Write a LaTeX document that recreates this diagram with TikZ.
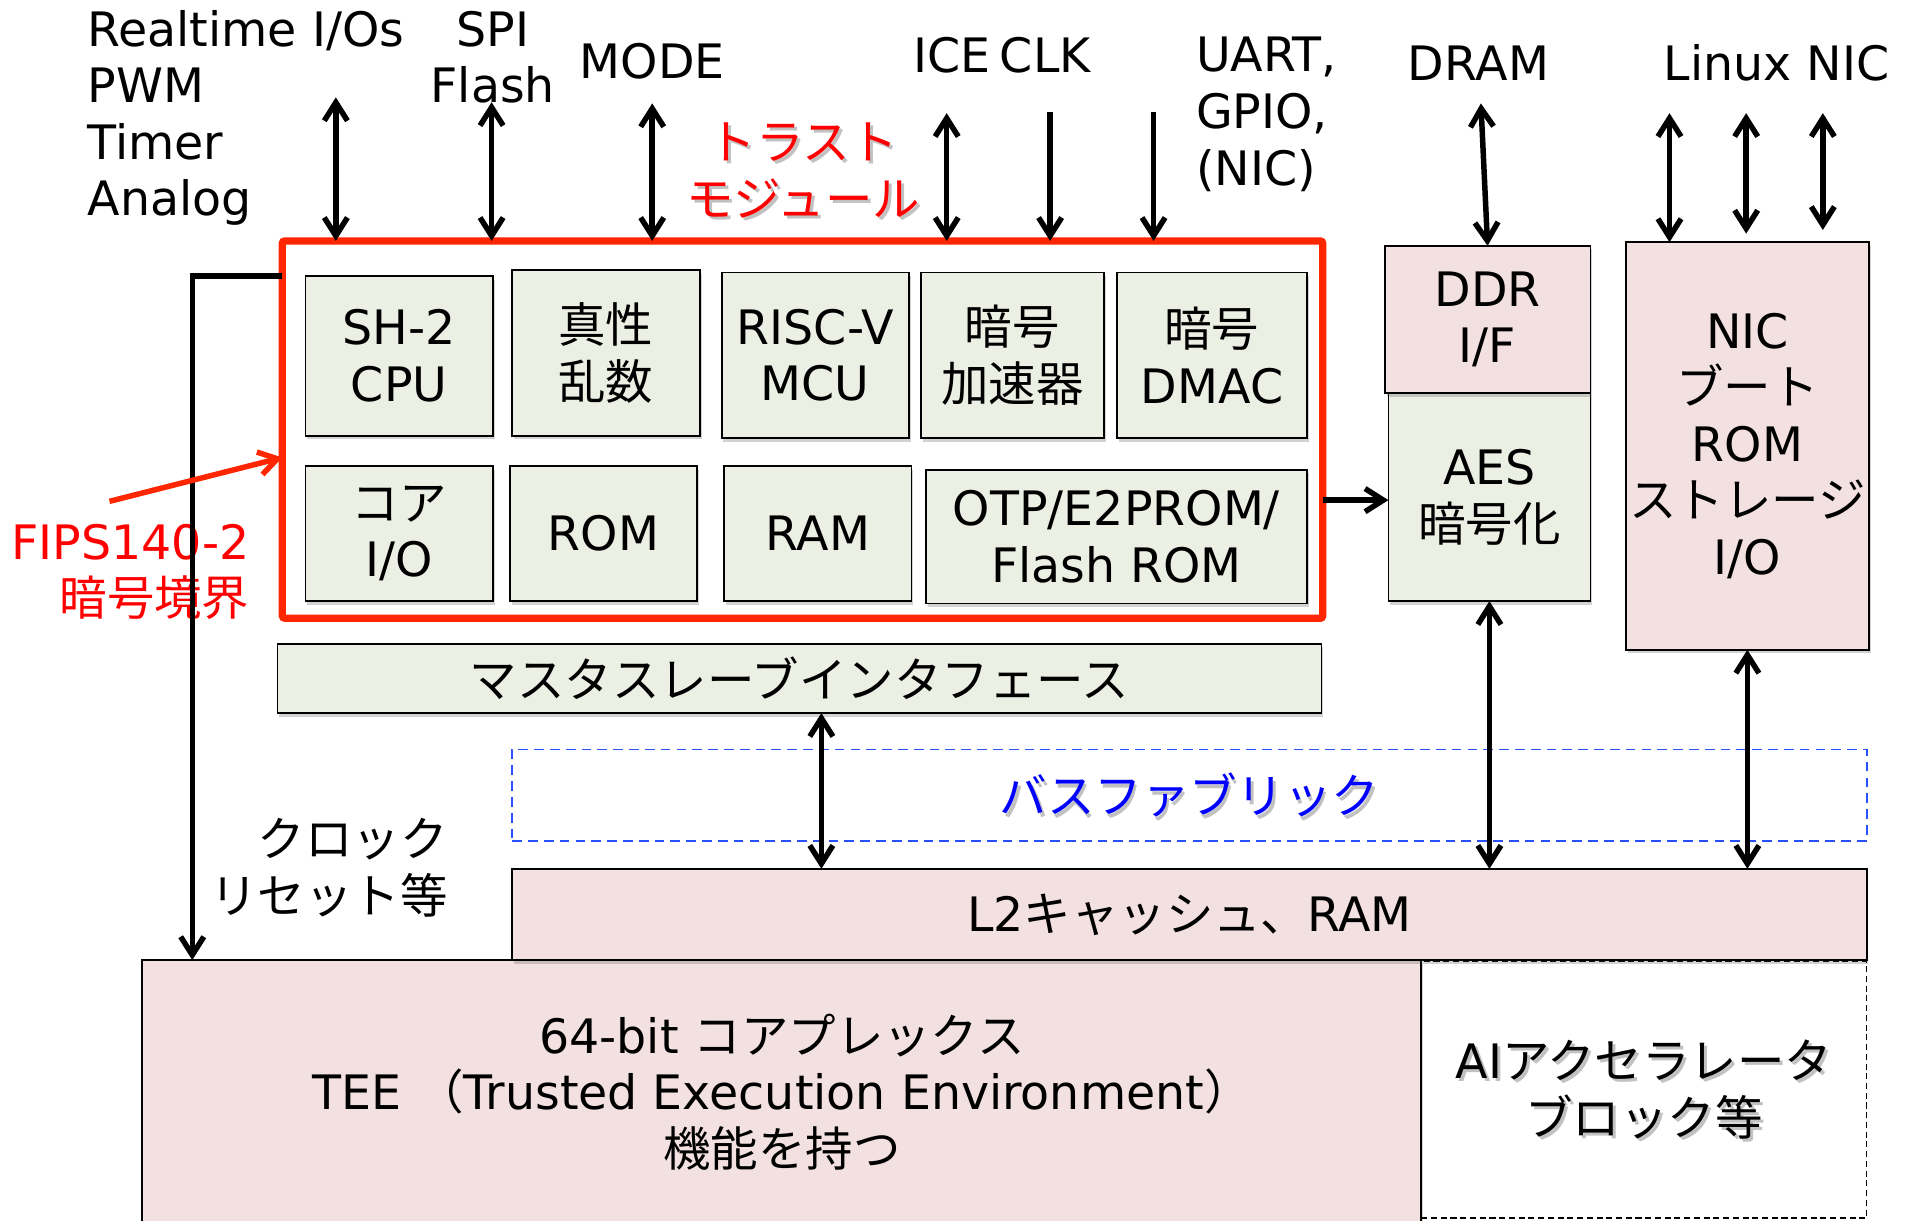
\documentclass[tikz,border=0pt]{standalone}
\usepackage{fontspec}
\setmainfont{DejaVu Sans}
\newfontfamily\jp{Noto Sans CJK JP}
\newcommand\jt[1]{{\jp #1}}
\usetikzlibrary{arrows.meta,shadows}
\definecolor{gfill}{RGB}{236,240,228}
\definecolor{pfill}{RGB}{242,225,224}
\definecolor{tmred}{RGB}{255,38,0}
\definecolor{busblue}{RGB}{40,80,255}
\begin{document}
\begin{tikzpicture}[x=1pt, y=-1pt,
  >={Straight Barb[length=15pt,width=19pt]},
  every node/.style={font=\fontsize{39}{46.5}\selectfont, inner sep=0pt, outer sep=0pt},
  size/.style 2 args={minimum width=#1pt, minimum height=#2pt},
  softshadow/.style={drop shadow={shadow xshift=1.5pt, shadow yshift=-3pt, opacity=0.25, fill=black!70}},
  blk/.style={draw=black, line width=1.5pt, align=center, softshadow},
  gbox/.style={blk, fill=gfill},
  pbox/.style={blk, fill=pfill},
  tmframe/.style={draw=tmred, line width=6pt, fill=white, rounded corners=2pt, softshadow},
  wire/.style={draw=black, line width=4.5pt},
  tshadow/.style={text=black!60, opacity=0.4, align=center},
]
\path[use as bounding box, fill=white] (0,0) rectangle (1568,1003);

% signals at the top
\node[anchor=west, align=left] (rtio) at (72,97) {Realtime I/Os\\PWM\\Timer\\Analog};
\node[align=center] (spi) at (405,47) {SPI\\Flash};
\node (mode) at (536,50) {MODE};
\node (ice) at (782,45) {ICE};
\node (clk) at (859,45) {CLK};
\node[anchor=west, align=left] (uart) at (983,94) {UART,\\GPIO,\\(NIC)};
\node (dram) at (1215,52) {DRAM};
\node (linuxnic) at (1460,52) {Linux NIC};

% trust module frame
\node[tmframe, size={855}{310}] (tm) at (659.5,353) {};
\node[tshadow] (trustsh) at (662.5,142.5) {\jt{トラスト}\\\jt{モジュール}};
\node[text=red, align=center] (trustlbl) at (660,140) {\jt{トラスト}\\\jt{モジュール}};

% blocks inside the trust module
\node[gbox, size={154}{131}] (sh2) at (328,292.5) {SH-2\\CPU};
\node[gbox, size={154}{136}] (trng) at (498,290) {\jt{真性}\\\jt{乱数}};
\node[gbox, size={154}{136}] (riscv) at (670,292) {RISC-V\\MCU};
\node[gbox, size={150}{136}] (accel) at (832,292) {\jt{暗号}\\\jt{加速器}};
\node[gbox, size={156}{136}] (dmac) at (996,292) {\jt{暗号}\\DMAC};
\node[gbox, size={154}{111}] (coreio) at (328,438.5) {\jt{コア}\\I/O};
\node[gbox, size={154}{111}] (rom) at (496,438.5) {ROM};
\node[gbox, size={154}{111}] (ram) at (672,438.5) {RAM};
\node[gbox, size={313}{110}] (otp) at (917.5,441) {OTP/E2PROM/\\Flash ROM};

% master/slave interface
\node[gbox, size={858}{57}] (ms) at (657,557.5) {\jt{マスタスレーブインタフェース}};

% memory path and NIC
\node[gbox, size={166}{171}] (aes) at (1224,408.5) {AES\\\jt{暗号化}};
\node[pbox, size={169}{121}] (ddr) at (1222.5,262.5) {DDR\\I/F};
\node[pbox, size={200}{335}] (nic) at (1436,366.5) {NIC\\\jt{ブート}\\ROM\\\jt{ストレージ}\\I/O};

% bus fabric
\node[tshadow] (bussh) at (979.5,656.5) {\jt{バスファブリック}};
\node[draw=busblue, dash pattern=on 8pt off 5pt, line width=1.5pt, text=blue, size={1113}{75}] (bus) at (977.5,653.5) {\jt{バスファブリック}};

% AI accelerator, core complex and L2
\node[tshadow] (aish) at (1353.5,898) {AI\jt{アクセラレータ}\\\jt{ブロック等}};
\node[draw=black, dash pattern=on 5pt off 3pt, line width=1pt, align=center, size={366}{211}] (ai) at (1351,895.5) {AI\jt{アクセラレータ}\\\jt{ブロック等}};
\node[pbox, size={1051}{217}] (tee) at (642.5,897.5) {64-bit \jt{コアプレックス}\\TEE \jt{（}Trusted Execution Environment\jt{）}\\\jt{機能を持つ}};
\node[pbox, size={1113}{75}] (l2) at (977.5,751.5) {L2\jt{キャッシュ、}RAM};

% side labels
\node[anchor=east, align=right] (clklbl) at (368,713) {\jt{クロック}\\\jt{リセット等}};
\node[anchor=east, align=right, text=red] (fips) at (205,470) {FIPS140-2\\\jt{暗号境界}};

% connectors at the top
\coordinate (rtend) at (276,80);
\coordinate (spiend) at (404,84);
\coordinate (modeend) at (536,85);
\coordinate (iceend) at (778,93);
\coordinate (clkend) at (863,92);
\coordinate (uartend) at (948,92);
\coordinate (dramend) at (1217,85);
\coordinate (nica) at (1372,93);
\coordinate (nicb) at (1435,93);
\coordinate (nicc) at (1498,93);
\draw[wire,<->] (rtend) -- (tm.north -| rtend);
\draw[wire,<->] (spiend) -- (tm.north -| spiend);
\draw[wire,<->] (modeend) -- (tm.north -| modeend);
\draw[wire,<->] (iceend) -- (tm.north -| iceend);
\draw[wire,->] (clkend) -- (tm.north -| clkend);
\draw[wire,->] (uartend) -- (tm.north -| uartend);
\draw[wire,<->] (dramend) -- (ddr.north);
\draw[wire,<->] (nica) -- (nica |- nic.north);
\draw[wire,<->, shorten >=7pt] (nicb) -- (nicb |- nic.north);
\draw[wire,<->, shorten >=10pt] (nicc) -- (nicc |- nic.north);

% clock / reset line
\coordinate (clkcorner) at (158,227);
\draw[wire,->] (clkcorner -| tm.west) -- (clkcorner) -- (clkcorner |- tee.north);

% crypto boundary pointer
\coordinate (fipstail) at (90,412);
\draw[wire, draw=tmred, ->] (fipstail) -- (tm.west |- 0,376);

% module to AES
\draw[wire,->] (tm.east |- 0,411) -- (aes.west |- 0,411);

% links down to L2
\draw[wire,<->] (ms.south -| 675,0) -- (l2.north -| 675,0);
\draw[wire,<->] (aes.south) -- (aes.south |- l2.north);
\draw[wire,<->] (nic.south) -- (nic.south |- l2.north);
\end{tikzpicture}
\end{document}
